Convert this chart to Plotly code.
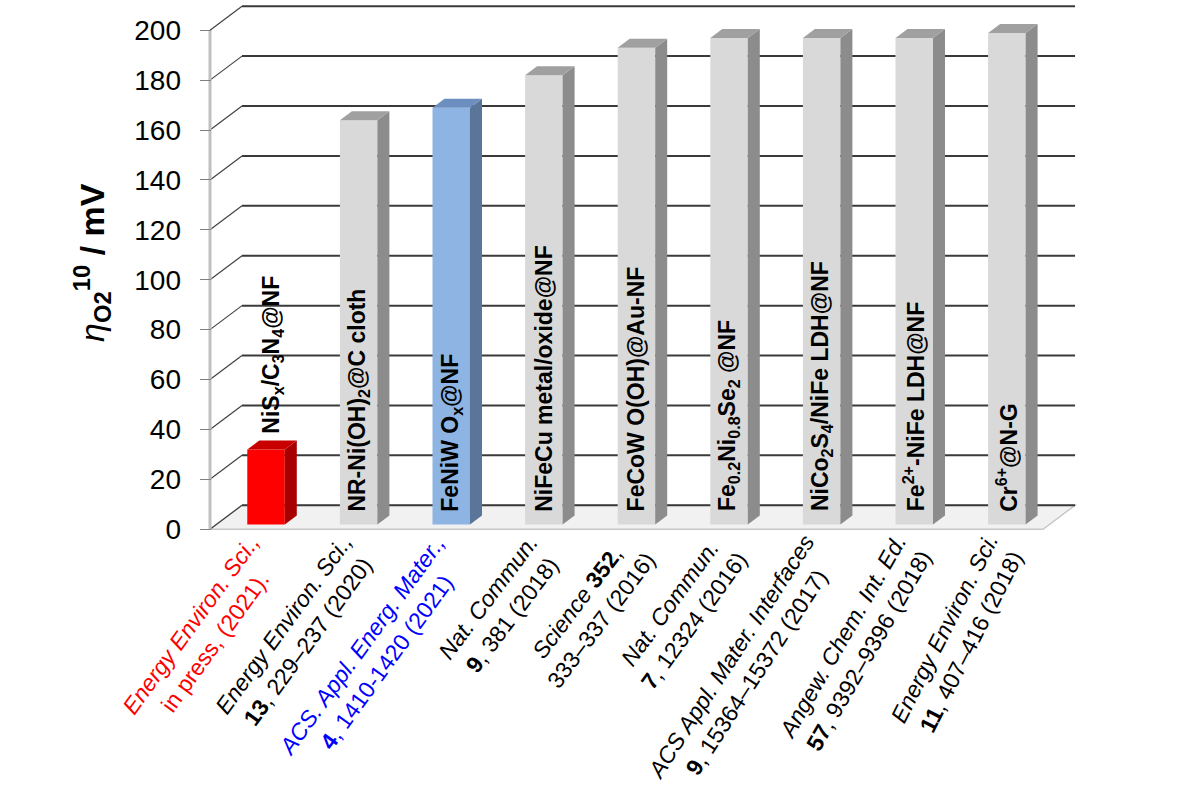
import plotly.graph_objects as go

# ---------------- data ----------------
materials = [
    "NiS<sub>x</sub>/C<sub>3</sub>N<sub>4</sub>@NF",
    "NR-Ni(OH)<sub>2</sub>@C cloth",
    "FeNiW O<sub>x</sub>@NF",
    "NiFeCu metal/oxide@NF",
    "FeCoW O(OH)@Au-NF",
    "Fe<sub>0.2</sub>Ni<sub>0.8</sub>Se<sub>2</sub> @NF",
    "NiCo<sub>2</sub>S<sub>4</sub>/NiFe LDH@NF",
    "Fe<sup>2+</sup>-NiFe LDH@NF",
    "Cr<sup>6+</sup>@N-G",
]
overpotential = [30, 162, 167, 180, 191, 195, 195, 195, 197]

ref_line1 = [
    "<i>Energy Environ. Sci.,</i>",
    "<i>Energy Environ. Sci.,</i>",
    "<i>ACS. Appl. Energ. Mater.,</i>",
    "<i>Nat. Commun.</i>",
    "<i>Science</i> <b>352</b>,",
    "<i>Nat. Commun.</i>",
    "<i>ACS Appl. Mater. Interfaces</i>",
    "<i>Angew. Chem. Int. Ed.</i>",
    "<i>Energy Environ. Sci.</i>",
]
ref_line2 = [
    "in press, (2021).",
    "<b>13</b>, 229–237 (2020)",
    "<b>4</b>, 1410-1420 (2021)",
    "<b>9</b>, 381 (2018)",
    "333–337 (2016)",
    "<b>7</b>, 12324 (2016)",
    "<b>9</b>, 15364–15372 (2017)",
    "<b>57</b>, 9392–9396 (2018)",
    "<b>11</b>, 407–416 (2018)",
]
y_ticks = [0, 20, 40, 60, 80, 100, 120, 140, 160, 180, 200]

# ---------------- styles ----------------
label_colors = ["#ff0000", "#000000", "#0000ff"] + ["#000000"] * 6
label_angles = [-54, -54, -54, -53, -53, -54, -57, -60, -63]
front_colors = ["#ff0000", "#d9d9d9", "#8db4e2"] + ["#d9d9d9"] * 6
side_colors = ["#a80000", "#8c8c8c", "#5a7598"] + ["#8c8c8c"] * 6
top_colors = ["#c80000", "#a0a0a0", "#6d8fc0"] + ["#a0a0a0"] * 6
text_pos = ["outside"] + ["inside"] * 8

FONT = "Liberation Sans, Arial, sans-serif"

# pseudo-3D geometry (data units)
X_LEFT, X_RIGHT = -0.644, 8.859
Y_LOW, Y_HIGH = -1.5, 210.5
WALL_X = -0.536          # front-left wall edge
FLOOR_RIGHT = 8.46       # front-right floor corner
DX, DY = 0.3456, 9.618   # full depth vector
BX, BY = 0.2 * DX, 0.2 * DY       # bar front face depth offset
DDX, DDY = 0.1296, 3.607          # bar depth
BW = 0.405                        # bar width

n = len(overpotential)
xs = [i + BX for i in range(n)]

fig = go.Figure()

# walls / floor as shapes below traces
shapes = []
floor_path = (f"M {WALL_X},0 L {FLOOR_RIGHT},0 L {FLOOR_RIGHT + DX},{DY} "
              f"L {WALL_X + DX},{DY} Z")
shapes.append(dict(type="path", path=floor_path, xref="x", yref="y",
                   fillcolor="#f1f1f1", line=dict(color="#c8c8c8", width=1.5),
                   layer="below"))
for t in y_ticks:
    shapes.append(dict(type="line", xref="x", yref="y", x0=WALL_X, y0=t,
                       x1=WALL_X + DX, y1=t + DY,
                       line=dict(color="#404040", width=1.2), layer="below"))
    shapes.append(dict(type="line", xref="x", yref="y", x0=WALL_X + DX, y0=t + DY,
                       x1=FLOOR_RIGHT + DX, y1=t + DY,
                       line=dict(color="#3a3a3a", width=2), layer="below"))
shapes.append(dict(type="line", xref="x", yref="y", x0=WALL_X, y0=0,
                   x1=WALL_X, y1=y_ticks[-1],
                   line=dict(color="#c0c0c0", width=3), layer="below"))

# bar front faces
fig.add_trace(go.Bar(
    x=xs, y=overpotential, base=[BY] * n, width=BW,
    marker=dict(color=front_colors, line=dict(width=0)),
    hoverinfo="skip", showlegend=False,
))

# side and top faces
for i, v in enumerate(overpotential):
    xl = xs[i] - BW / 2
    xr = xs[i] + BW / 2
    top = BY + v
    fig.add_trace(go.Scatter(
        x=[xr, xr, xr + DDX, xr + DDX, xr],
        y=[BY, top, top + DDY, BY + DDY, BY],
        mode="lines", fill="toself", fillcolor=side_colors[i],
        line=dict(width=0, color=side_colors[i]), hoverinfo="skip", showlegend=False))
    fig.add_trace(go.Scatter(
        x=[xl, xr, xr + DDX, xl + DDX, xl],
        y=[top, top, top + DDY, top + DDY, top],
        mode="lines", fill="toself", fillcolor=top_colors[i],
        line=dict(width=0, color=top_colors[i]), hoverinfo="skip", showlegend=False))

annotations = []
# material names on / above bars
for i, v in enumerate(overpotential):
    if text_pos[i] == "inside":
        y, ys, xsft = BY, 11, 0
    else:
        y, ys, xsft = BY + v, 14, 7
    annotations.append(dict(
        x=xs[i], y=y, xref="x", yref="y", text=f"<b>{materials[i]}</b>",
        textangle=-90, xanchor="center", yanchor="bottom", yshift=ys, xshift=xsft,
        showarrow=False, font=dict(family=FONT, size=23, color="#000000")))

# reference labels
for i in range(n):
    annotations.append(dict(
        x=xs[i], y=0, xref="x", yref="y",
        text=ref_line1[i] + "<br>" + ref_line2[i],
        textangle=label_angles[i], xanchor="right", yanchor="top", align="center",
        xshift=26, yshift=2, showarrow=False,
        font=dict(family=FONT, size=23, color=label_colors[i])))

# y-axis title
annotations.append(dict(
    x=-0.123, y=0.512, xref="paper", yref="paper",
    text="<i>η</i><sub><b>O2</b></sub><sup><b>10</b></sup><b> / mV</b>",
    textangle=-90, xanchor="center", yanchor="middle", showarrow=False,
    font=dict(family=FONT, size=34, color="#000000")))

fig.update_layout(
    width=1200, height=800,
    margin=dict(l=200, r=120, t=4, b=267),
    paper_bgcolor="white", plot_bgcolor="white",
    showlegend=False, shapes=shapes, annotations=annotations,
    xaxis=dict(range=[X_LEFT, X_RIGHT], showgrid=False, zeroline=False,
               showline=False, showticklabels=False, ticks=""),
    yaxis=dict(range=[Y_LOW, Y_HIGH], showgrid=False, zeroline=False,
               showline=False, tickvals=y_ticks, ticks="inside", ticklen=11,
               tickcolor="#808080", tickwidth=1, ticklabelstandoff=18,
               tickfont=dict(family=FONT, size=28, color="#000000")),
)

fig.write_html("out.html")
